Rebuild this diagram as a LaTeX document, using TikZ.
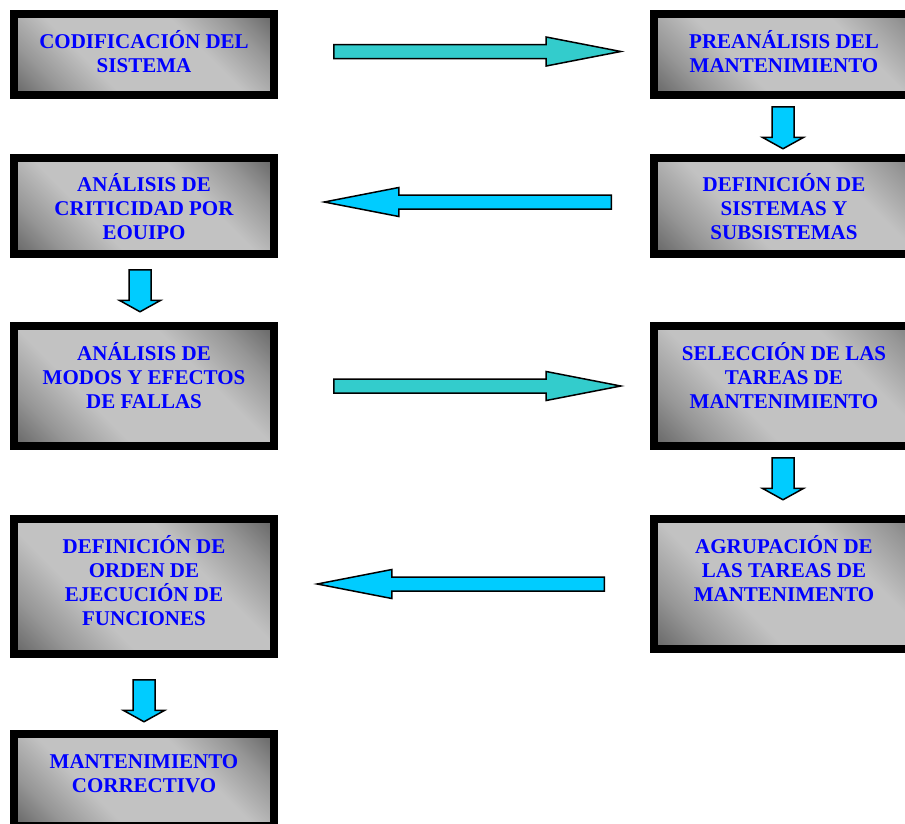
\documentclass[tikz,border=0pt]{standalone}
\usepackage{fontspec}
\setmainfont{Liberation Serif}
\usetikzlibrary{shapes.arrows}

\definecolor{labelblue}{RGB}{0,0,255}
\definecolor{arrowteal}{RGB}{51,204,204}
\definecolor{arrowcyan}{RGB}{0,204,255}
\definecolor{paneldark}{RGB}{98,98,98}
\definecolor{panelmid}{RGB}{150,150,150}
\definecolor{panellight}{RGB}{194,194,194}

% diagonal silver band with darker corners
\pgfdeclareverticalshading{panelshade}{100bp}{%
  color(0bp)=(paneldark); color(14bp)=(paneldark); color(25bp)=(panelmid);
  color(37bp)=(panellight); color(63bp)=(panellight); color(75bp)=(panelmid);
  color(86bp)=(paneldark); color(100bp)=(paneldark)}

\tikzset{
  panel/.style={draw=black, line width=8pt, shading=panelshade, shading angle=-45,
    minimum width=260pt, inner sep=0pt, outer sep=0pt},
  widepanel/.style={panel, minimum width=290pt},
  caption/.style={anchor=north, inner sep=0pt, outer sep=0pt, align=center,
    text=labelblue, font=\fontsize{21}{24}\selectfont\bfseries},
  harrow/.style={single arrow, draw=black, line width=1.5pt, line join=miter,
    single arrow head extend=7.5pt, single arrow tip angle=22,
    minimum height=287pt, inner sep=6.25pt, outer sep=0pt, anchor=tail},
  varrow/.style={single arrow, draw=black, line width=1.5pt, fill=arrowcyan,
    single arrow head extend=9.5pt, single arrow tip angle=122,
    minimum height=42pt, inner sep=10.25pt, outer sep=0pt, anchor=tail,
    shape border rotate=270},
}
\newcommand{\firstline}{\rule{0pt}{20pt}}

\begin{document}
\begin{tikzpicture}[x=1pt,y=-1pt]
\useasboundingbox (0,0) rectangle (905,823);
\clip (0,0) rectangle (905,823);

% process boxes (right column runs past the page edge)
\node[panel, minimum height=81pt]      (b1) at (144,54.5)  {};
\node[widepanel, minimum height=81pt]  (b2) at (799,54.5)  {};
\node[widepanel, minimum height=96pt]  (b3) at (799,205.5) {};
\node[panel, minimum height=96pt]      (b4) at (144,205.5) {};
\node[panel, minimum height=120pt]     (b5) at (144,386)   {};
\node[widepanel, minimum height=120pt] (b6) at (799,386)   {};
\node[widepanel, minimum height=130pt] (b7) at (799,584)   {};
\node[panel, minimum height=135pt]     (b8) at (144,586.5) {};
\node[panel, minimum height=92pt]      (b9) at (144,780)   {};

% box captions
\node[caption] (t1) at ([yshift=-14pt]b1.north) {\firstline CODIFICACIÓN DEL\\SISTEMA};
\node[caption] (t2) at ([xshift=-15pt,yshift=-14pt]b2.north) {\firstline PREANÁLISIS DEL\\MANTENIMIENTO};
\node[caption] (t3) at ([xshift=-15pt,yshift=-14pt]b3.north) {\firstline DEFINICIÓN DE\\SISTEMAS Y\\SUBSISTEMAS};
\node[caption] (t4) at ([yshift=-14pt]b4.north) {\firstline ANÁLISIS DE\\CRITICIDAD POR\\EOUIPO};
\node[caption] (t5) at ([yshift=-14pt]b5.north) {\firstline ANÁLISIS DE\\MODOS Y EFECTOS\\DE FALLAS};
\node[caption] (t6) at ([xshift=-15pt,yshift=-14pt]b6.north) {\firstline SELECCIÓN DE LAS\\TAREAS DE\\MANTENIMIENTO};
\node[caption] (t7) at ([xshift=-15pt,yshift=-14pt]b7.north) {\firstline AGRUPACIÓN DE\\LAS TAREAS DE\\MANTENIMENTO};
\node[caption] (t8) at ([yshift=-14pt]b8.north) {\firstline DEFINICIÓN DE\\ORDEN DE\\EJECUCIÓN DE\\FUNCIONES};
\node[caption] (t9) at ([yshift=-14pt]b9.north) {\firstline MANTENIMIENTO\\CORRECTIVO};

% flow arrows
\node[harrow, fill=arrowteal] (a12) at (333.75,51.5) {};
\node[varrow] (a23) at (783,106.75) {};
\node[harrow, fill=arrowcyan, shape border rotate=180] (a34) at (611.25,202) {};
\node[varrow] (a45) at (140,269.75) {};
\node[harrow, fill=arrowteal] (a56) at (333.75,386) {};
\node[varrow] (a67) at (783,457.75) {};
\node[harrow, fill=arrowcyan, shape border rotate=180] (a78) at (604.25,584) {};
\node[varrow] (a89) at (144,679.75) {};
\end{tikzpicture}
\end{document}
